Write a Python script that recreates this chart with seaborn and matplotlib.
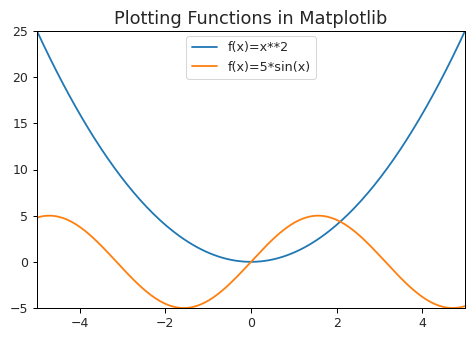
import numpy as np
import pandas as pd
import matplotlib
matplotlib.use("Agg")
import matplotlib.pyplot as plt
import seaborn as sns

# Sample points and the two function curves
x = np.linspace(-5, 5, 200)
labels = ["f(x)=x**2", "f(x)=5*sin(x)"]
y_square = x ** 2
y_sine = 5 * np.sin(x)
x_ticks = [-4, -2, 0, 2, 4]
y_ticks = [-5, 0, 5, 10, 15, 20, 25]

df = pd.DataFrame({
    "x": np.concatenate([x, x]),
    "y": np.concatenate([y_square, y_sine]),
    "func": [labels[0]] * len(x) + [labels[1]] * len(x),
})

sns.set_style("ticks")
plt.rcParams["font.family"] = ["DejaVu Sans"]

fig = plt.figure(figsize=(474 / 72, 339 / 72), dpi=72)
ax = fig.add_axes([0.078, 0.0914, 0.903, 0.8172])
sns.lineplot(data=df, x="x", y="y", hue="func", palette=["#1f77b4", "#ff7f0e"],
             linewidth=1.8, ax=ax, sort=False, estimator=None)
ax.set_xlim(-5, 5)
ax.set_ylim(-5, 25)
ax.set_xticks(x_ticks)
ax.set_xticklabels([f"\u2212{abs(t)}" if t < 0 else str(t) for t in x_ticks])
ax.set_yticks(y_ticks)
ax.set_yticklabels([f"\u2212{abs(t)}" if t < 0 else str(t) for t in y_ticks])
ax.tick_params(labelsize=12.5, length=4.5, width=1, color="black", pad=4)
for s in ax.spines.values():
    s.set_color("black")
    s.set_linewidth(1)
ax.set_xlabel("")
ax.set_ylabel("")
ax.set_title("Plotting Functions in Matplotlib", fontsize=17.8, pad=7)
ax.legend(loc="upper center", fontsize=12.8, title=None, borderaxespad=0.4)

fig.savefig("out.png", dpi=72)
